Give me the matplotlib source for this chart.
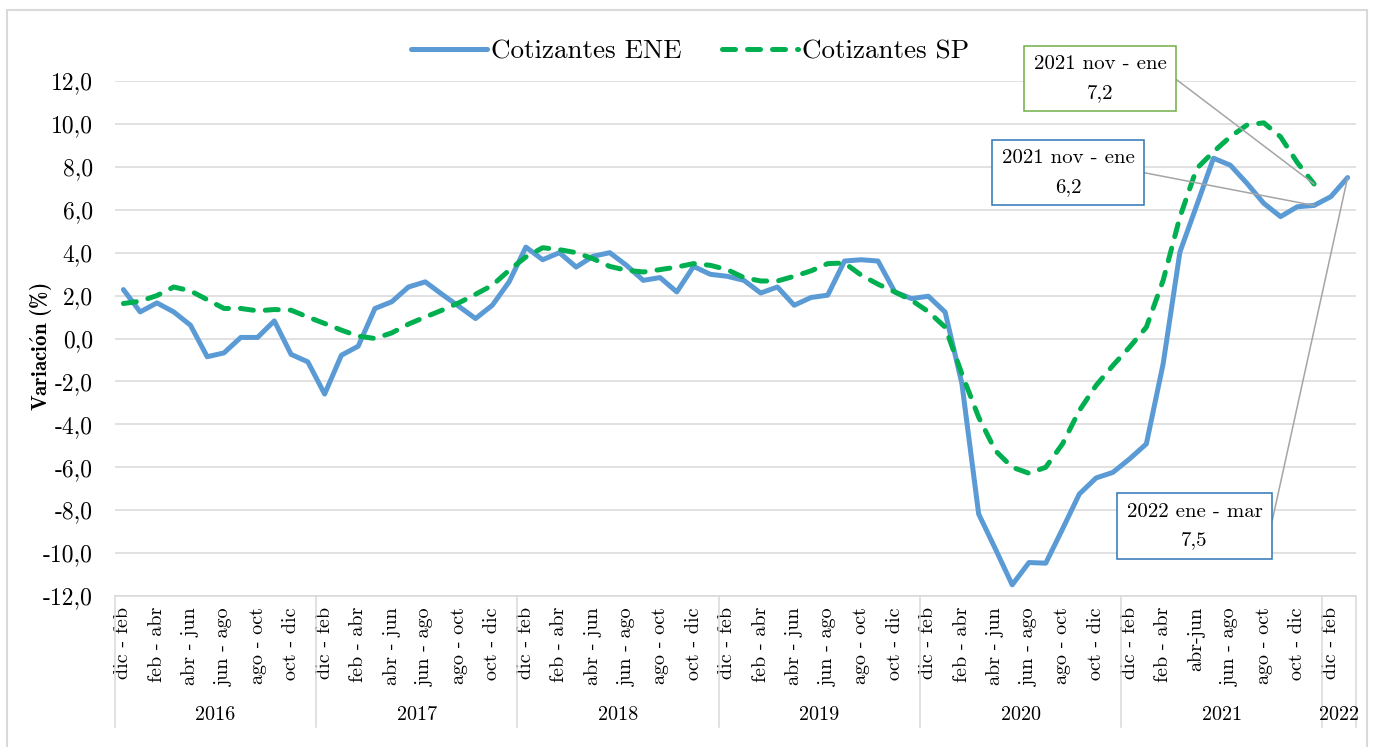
import matplotlib
matplotlib.use('Agg')
import numpy as np
import matplotlib.pyplot as plt
from matplotlib.patches import Rectangle

plt.rcParams['font.family'] = ['cmr10', 'DejaVu Serif']
plt.rcParams['mathtext.fontset'] = 'cm'
plt.rcParams['axes.unicode_minus'] = False

# rolling quarters, one group of 12 per year (2022 only has two so far)
quarters = ['dic - feb', 'ene - mar', 'feb - abr', 'mar - may', 'abr - jun', 'may - jul',
            'jun - ago', 'jul - sep', 'ago - oct', 'sep - nov', 'oct - dic', 'nov - ene']
years = ['2016', '2017', '2018', '2019', '2020', '2021', '2022']
year_sizes = [12, 12, 12, 12, 12, 12, 2]

ene = [2.28, 1.24, 1.66, 1.24, 0.62, -0.85, -0.67, 0.05, 0.05, 0.82, -0.74, -1.09,
       -2.59, -0.78, -0.36, 1.40, 1.71, 2.40, 2.64, 2.06, 1.50, 0.93, 1.55, 2.64,
       4.26, 3.67, 4.00, 3.33, 3.83, 4.00, 3.41, 2.71, 2.84, 2.17, 3.36, 2.99,
       2.90, 2.71, 2.12, 2.40, 1.55, 1.91, 2.02, 3.61, 3.67, 3.61, 2.17, 1.86,
       1.97, 1.23, -2.10, -8.18, -9.81, -11.48, -10.44, -10.47, -8.88, -7.25, -6.50, -6.24,
       -5.61, -4.91, -1.18, 4.03, 6.20, 8.40, 8.08, 7.23, 6.30, 5.68, 6.14, 6.20,
       6.61, 7.50]

sp = [1.63, 1.74, 2.00, 2.40, 2.22, 1.81, 1.40, 1.40, 1.29, 1.35, 1.32, 1.00,
      0.70, 0.39, 0.11, 0.00, 0.26, 0.67, 1.00, 1.32, 1.66, 2.06, 2.48, 3.18,
      3.80, 4.23, 4.14, 4.00, 3.72, 3.36, 3.18, 3.10, 3.21, 3.33, 3.49, 3.41,
      3.21, 2.84, 2.68, 2.68, 2.90, 3.15, 3.49, 3.52, 2.95, 2.53, 2.17, 1.78,
      1.25, 0.53, -1.65, -3.67, -5.23, -6.00, -6.28, -6.00, -4.91, -3.36, -2.19, -1.26,
      -0.40, 0.53, 2.71, 5.66, 7.92, 8.70, 9.40, 9.95, 10.05, 9.40, 8.20, 7.20]

categories = []
for n in year_sizes:
    categories += quarters[:n]
categories[64] = 'abr-jun'  # written without spaces in the source

W, H = 1373, 747
fig = plt.figure(figsize=(W / 100, H / 100), dpi=100)
ax = fig.add_axes([115 / W, 151 / H, 1241 / W, 515 / H])

x = np.arange(len(categories))
ax.plot(x, ene, color='#5B9BD5', lw=3.6, solid_joinstyle='round',
        solid_capstyle='round', label='Cotizantes ENE')
ax.plot(x[:len(sp)], sp, color='#00B050', lw=3.6, ls=(0, (2.6, 2.4)),
        dash_capstyle='round', label='Cotizantes SP')

ax.set_xlim(-0.5, len(categories) - 0.5)
ax.set_ylim(-12, 12)
yt = np.arange(-12, 13, 2)
ax.set_yticks(yt)
ax.set_yticklabels([f'{v:.1f}'.replace('.', ',') for v in yt], fontsize=17)
ax.tick_params(axis='y', length=0, pad=16)
ax.grid(axis='y', color='#D9D9D9', lw=1.1)
ax.set_axisbelow(True)
for s in ['top', 'right', 'left']:
    ax.spines[s].set_visible(False)
ax.spines['bottom'].set_color('#D9D9D9')
ax.spines['bottom'].set_linewidth(1.1)

ax.set_xticks(x[::2])
ax.set_xticklabels(categories[::2], rotation=90, fontsize=14.5)
ax.tick_params(axis='x', length=0, pad=8)

# year level of the category axis
bounds = np.concatenate([[0], np.cumsum(year_sizes)]) - 0.5
trans = ax.get_xaxis_transform()
for b in bounds:
    ax.plot([b, b], [0, -0.254], transform=trans, color='#D9D9D9', lw=1.1, clip_on=False)
for year, a, b in zip(years, bounds[:-1], bounds[1:]):
    ax.text((a + b) / 2, -0.231, year, transform=trans, ha='center', va='center', fontsize=14.5)

ax.set_ylabel(r'$\mathbf{Variaci\acute{o}n}$ (%)', fontsize=15, va='center',
              family=['cmb10', 'DejaVu Serif'])
ax.yaxis.set_label_coords(-0.0596, 0.483)

fig.legend(loc='center', bbox_to_anchor=(690 / W, 1 - 52 / H), ncol=2, frameon=False,
           fontsize=19.5, handlelength=2.8, handletextpad=0.15, columnspacing=1.5)


def callout(series, idx, period, pos, edge):
    val = series[idx]
    label = period + '\n' + f'{val:.1f}'.replace('.', ',')
    ax.annotate(label, xy=(idx, val), xycoords='data', xytext=pos,
                textcoords='figure fraction', ha='center', va='center',
                fontsize=15, linespacing=1.75, zorder=5,
                bbox=dict(boxstyle='square,pad=0.45', fc='white', ec=edge, lw=1.1),
                arrowprops=dict(arrowstyle='-', color='#A5A5A5', lw=1.1, relpos=(1, 0.5),
                                shrinkA=0, shrinkB=0,
                                connectionstyle='arc,angleA=0,angleB=0,armA=8.6,armB=0,rad=0'))


callout(sp, 71, '2021 nov - ene', (1100 / W, 1 - 78.5 / H), '#70AD47')
callout(ene, 71, '2021 nov - ene', (1068 / W, 1 - 172.5 / H), '#2E75B6')
callout(ene, 73, '2022 ene - mar', (1194.5 / W, 1 - 526 / H), '#2E75B6')

fig.add_artist(Rectangle((7 / W, -0.05), 1360 / W, (H - 10) / H + 0.05,
                         transform=fig.transFigure, fill=False, ec='#D9D9D9', lw=1.5))

fig.savefig('out.png', dpi=100)
